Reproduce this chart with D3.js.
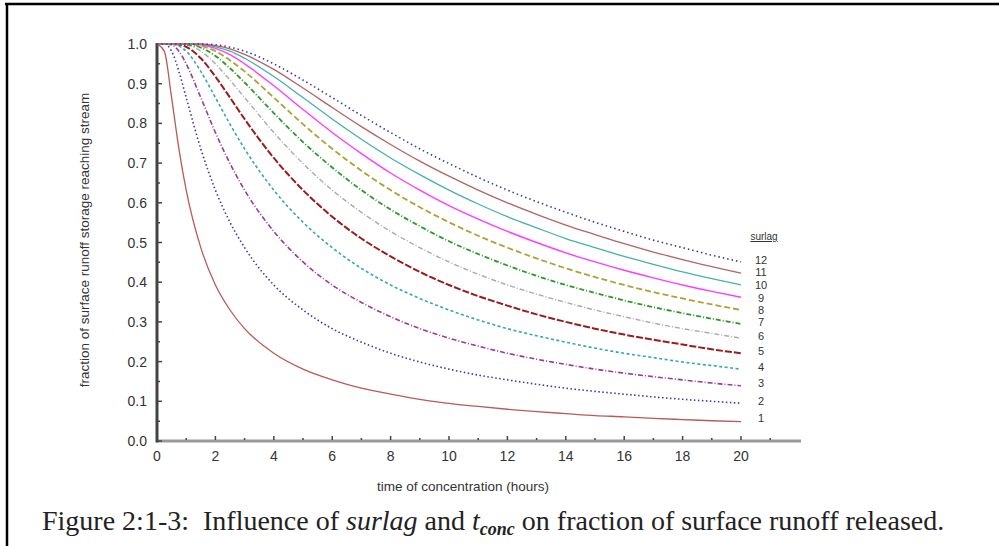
<!DOCTYPE html>
<html>
<head>
<meta charset="utf-8">
<script src="https://cdn.jsdelivr.net/npm/d3@7"></script>
<style>
  body { margin: 0; background: #fff; }
  svg { display: block; }
</style>
</head>
<body>
<svg id="chart" width="999" height="546"></svg>
<script>
// time of concentration (hours)
var tconc = [0, 0.25, 0.5, 0.75, 1, 1.5, 2, 2.5, 3, 4, 5, 6, 7, 8, 9, 10, 11, 12, 13, 14, 15, 16, 17, 18, 19, 20];

// fraction of runoff reaching stream, one list per surlag value
var surlag1  = [1, 0.982, 0.865, 0.736, 0.632, 0.487, 0.393, 0.330, 0.283, 0.221, 0.181, 0.154, 0.133, 0.118, 0.105, 0.095, 0.087, 0.080, 0.074, 0.069, 0.064, 0.061, 0.057, 0.054, 0.051, 0.049];
var surlag2  = [1, 1, 0.982, 0.931, 0.865, 0.736, 0.632, 0.551, 0.487, 0.393, 0.330, 0.283, 0.249, 0.221, 0.199, 0.181, 0.166, 0.154, 0.143, 0.133, 0.125, 0.118, 0.111, 0.105, 0.100, 0.095];
var surlag3  = [1, 1, 0.998, 0.982, 0.950, 0.865, 0.777, 0.699, 0.632, 0.528, 0.451, 0.393, 0.349, 0.313, 0.283, 0.259, 0.239, 0.221, 0.206, 0.193, 0.181, 0.171, 0.162, 0.154, 0.146, 0.139];
var surlag4  = [1, 1, 1, 0.995, 0.982, 0.931, 0.865, 0.798, 0.736, 0.632, 0.551, 0.487, 0.435, 0.393, 0.359, 0.330, 0.305, 0.283, 0.265, 0.249, 0.234, 0.221, 0.210, 0.199, 0.190, 0.181];
var surlag5  = [1, 1, 1, 0.999, 0.993, 0.964, 0.918, 0.865, 0.811, 0.713, 0.632, 0.565, 0.510, 0.465, 0.426, 0.393, 0.365, 0.341, 0.319, 0.300, 0.283, 0.268, 0.255, 0.243, 0.231, 0.221];
var surlag6  = [1, 1, 1, 1, 0.998, 0.982, 0.950, 0.909, 0.865, 0.777, 0.699, 0.632, 0.576, 0.528, 0.487, 0.451, 0.420, 0.393, 0.370, 0.349, 0.330, 0.313, 0.297, 0.283, 0.271, 0.259];
var surlag7  = [1, 1, 1, 1, 0.999, 0.991, 0.970, 0.939, 0.903, 0.826, 0.753, 0.689, 0.632, 0.583, 0.541, 0.503, 0.471, 0.442, 0.416, 0.393, 0.373, 0.354, 0.337, 0.322, 0.308, 0.295];
var surlag8  = [1, 1, 1, 1, 1, 0.995, 0.982, 0.959, 0.931, 0.865, 0.798, 0.736, 0.681, 0.632, 0.589, 0.551, 0.517, 0.487, 0.460, 0.435, 0.413, 0.393, 0.375, 0.359, 0.344, 0.330];
var surlag9  = [1, 1, 1, 1, 1, 0.998, 0.989, 0.973, 0.950, 0.895, 0.835, 0.777, 0.724, 0.675, 0.632, 0.593, 0.559, 0.528, 0.500, 0.474, 0.451, 0.430, 0.411, 0.393, 0.377, 0.362];
var surlag10 = [1, 1, 1, 1, 1, 0.999, 0.993, 0.982, 0.964, 0.918, 0.865, 0.811, 0.760, 0.713, 0.671, 0.632, 0.597, 0.565, 0.537, 0.510, 0.487, 0.465, 0.445, 0.426, 0.409, 0.393];
var surlag11 = [1, 1, 1, 1, 1, 1, 0.996, 0.988, 0.974, 0.936, 0.889, 0.840, 0.792, 0.747, 0.705, 0.667, 0.632, 0.600, 0.571, 0.544, 0.520, 0.497, 0.476, 0.457, 0.439, 0.423];
var surlag12 = [1, 1, 1, 1, 1, 1, 0.998, 0.992, 0.982, 0.950, 0.909, 0.865, 0.820, 0.777, 0.736, 0.699, 0.664, 0.632, 0.603, 0.576, 0.551, 0.528, 0.506, 0.487, 0.468, 0.451];

var seriesLabels = ['1', '2', '3', '4', '5', '6', '7', '8', '9', '10', '11', '12'];
var seriesValues = [surlag1, surlag2, surlag3, surlag4, surlag5, surlag6, surlag7, surlag8, surlag9, surlag10, surlag11, surlag12];

var xTicks = [0, 2, 4, 6, 8, 10, 12, 14, 16, 18, 20];
var yTicks = [0, 0.1, 0.2, 0.3, 0.4, 0.5, 0.6, 0.7, 0.8, 0.9, 1.0];

// line look per series
var styles = [
    { color: '#b85a5a', dash: null,      width: 1.3 },
    { color: '#3a3aa8', dash: '1.5,2.5', width: 1.6 },
    { color: '#9a3a9a', dash: '5,2,1,2', width: 1.6 },
    { color: '#35a8a8', dash: '3,2.5',   width: 1.6 },
    { color: '#9a1c1c', dash: '7,2',     width: 2 },
    { color: '#aaaaaa', dash: '5,2,1,2', width: 1.4 },
    { color: '#2a9a2a', dash: '5,2,1,2', width: 1.8 },
    { color: '#aaa335', dash: '6,3',     width: 1.8 },
    { color: '#ff3cff', dash: null,      width: 1.4 },
    { color: '#46b0b0', dash: null,      width: 1.3 },
    { color: '#b46464', dash: null,      width: 1.3 },
    { color: '#3a3aa0', dash: '1.5,3',   width: 1.6 }
];

var svg = d3.select('#chart');

// page frame
svg.append('line').attr('x1', 5).attr('x2', 999).attr('y1', 4).attr('y2', 4)
    .attr('stroke', '#000').attr('stroke-width', 2.5);
svg.append('line').attr('x1', 7).attr('x2', 7).attr('y1', 4).attr('y2', 546)
    .attr('stroke', '#000').attr('stroke-width', 2.5);

var x = d3.scaleLinear().domain([0, 20]).range([157, 741]);
var y = d3.scaleLinear().domain([0, 1]).range([441, 44]);

var line = d3.line()
    .x(function (d, i) { return x(tconc[i]); })
    .y(function (d) { return y(d); })
    .curve(d3.curveMonotoneX);

// axes
var xMinor = d3.range(0, 22, 1);
var yMinor = d3.range(0, 1.001, 0.05);

svg.append('line').attr('x1', x(0)).attr('x2', 801).attr('y1', y(0)).attr('y2', y(0))
    .attr('stroke', '#9a9a9a').attr('stroke-width', 3);

svg.selectAll('.xtick').data(xMinor).enter().append('line')
    .attr('class', 'xtick')
    .attr('x1', function (d) { return x(d); })
    .attr('x2', function (d) { return x(d); })
    .attr('y1', y(0) - 1)
    .attr('y2', function (d) { return y(0) - (d % 2 === 0 ? 5 : 3); })
    .attr('stroke', '#444').attr('stroke-width', 1.5);

svg.selectAll('.ytick').data(yMinor).enter().append('line')
    .attr('class', 'ytick')
    .attr('x1', x(0) + 1)
    .attr('x2', function (d, i) { return x(0) + (i % 2 === 0 ? 5 : 3); })
    .attr('y1', function (d) { return y(d); })
    .attr('y2', function (d) { return y(d); })
    .attr('stroke', '#444').attr('stroke-width', 1.5);

svg.append('line').attr('x1', x(0)).attr('x2', x(0)).attr('y1', y(1) - 1).attr('y2', y(0) + 1.5)
    .attr('stroke', '#444').attr('stroke-width', 3);

svg.selectAll('.xlabel').data(xTicks).enter().append('text')
    .attr('x', function (d) { return x(d); })
    .attr('y', 461)
    .attr('text-anchor', 'middle')
    .attr('font-family', 'Liberation Sans, Arial, sans-serif')
    .attr('font-size', 14)
    .attr('fill', '#333')
    .text(function (d) { return d; });

svg.selectAll('.ylabel').data(yTicks).enter().append('text')
    .attr('x', 147)
    .attr('y', function (d) { return y(d) + 5; })
    .attr('text-anchor', 'end')
    .attr('font-family', 'Liberation Sans, Arial, sans-serif')
    .attr('font-size', 14)
    .attr('fill', '#333')
    .text(function (d) { return d.toFixed(1); });

// curves
svg.selectAll('.curve').data(seriesValues).enter().append('path')
    .attr('class', 'curve')
    .attr('d', line)
    .attr('fill', 'none')
    .attr('stroke', function (d, i) { return styles[i].color; })
    .attr('stroke-width', function (d, i) { return styles[i].width; })
    .attr('stroke-dasharray', function (d, i) { return styles[i].dash; });

// legend labels at the right end of each curve
var labelY = [418, 401, 383, 367, 351, 336, 322, 310, 298, 285, 272, 260];
svg.selectAll('.serieslabel').data(seriesLabels).enter().append('text')
    .attr('x', 761)
    .attr('y', function (d, i) { return labelY[i] + 4; })
    .attr('text-anchor', 'middle')
    .attr('font-family', 'Liberation Sans, Arial, sans-serif')
    .attr('font-size', 11)
    .attr('fill', '#333')
    .text(function (d) { return d; });

svg.append('text')
    .attr('x', 764).attr('y', 240)
    .attr('text-anchor', 'middle')
    .attr('font-family', 'Liberation Sans Narrow, Liberation Sans, Arial, sans-serif')
    .attr('font-size', 10)
    .attr('fill', '#333')
    .attr('text-decoration', 'underline')
    .text('surlag');

// axis titles
svg.append('text')
    .attr('transform', 'translate(89,240) rotate(-90)')
    .attr('text-anchor', 'middle')
    .attr('font-family', 'Liberation Sans Narrow, Liberation Sans, Arial, sans-serif')
    .attr('font-size', 13.5)
    .attr('fill', '#333')
    .text('fraction of surface runoff storage reaching stream');

svg.append('text')
    .attr('x', 463).attr('y', 491)
    .attr('text-anchor', 'middle')
    .attr('font-family', 'Liberation Sans Narrow, Liberation Sans, Arial, sans-serif')
    .attr('font-size', 13.5)
    .attr('fill', '#333')
    .text('time of concentration (hours)');

// figure caption
var caption = svg.append('text')
    .attr('x', 42).attr('y', 530)
    .attr('font-family', 'Liberation Serif, Times New Roman, serif')
    .attr('font-size', 28)
    .attr('fill', '#222')
    .style('white-space', 'pre');
caption.append('tspan').text('Figure 2:1-3:  Influence of ');
caption.append('tspan').attr('font-style', 'italic').text('surlag');
caption.append('tspan').text(' and ');
caption.append('tspan').attr('font-style', 'italic').text('t');
caption.append('tspan').attr('font-style', 'italic').attr('font-weight', 'bold').attr('font-size', 18).attr('dy', 5).text('conc');
caption.append('tspan').attr('dy', -5).text(' on fraction of surface runoff released.');
</script>
</body>
</html>
